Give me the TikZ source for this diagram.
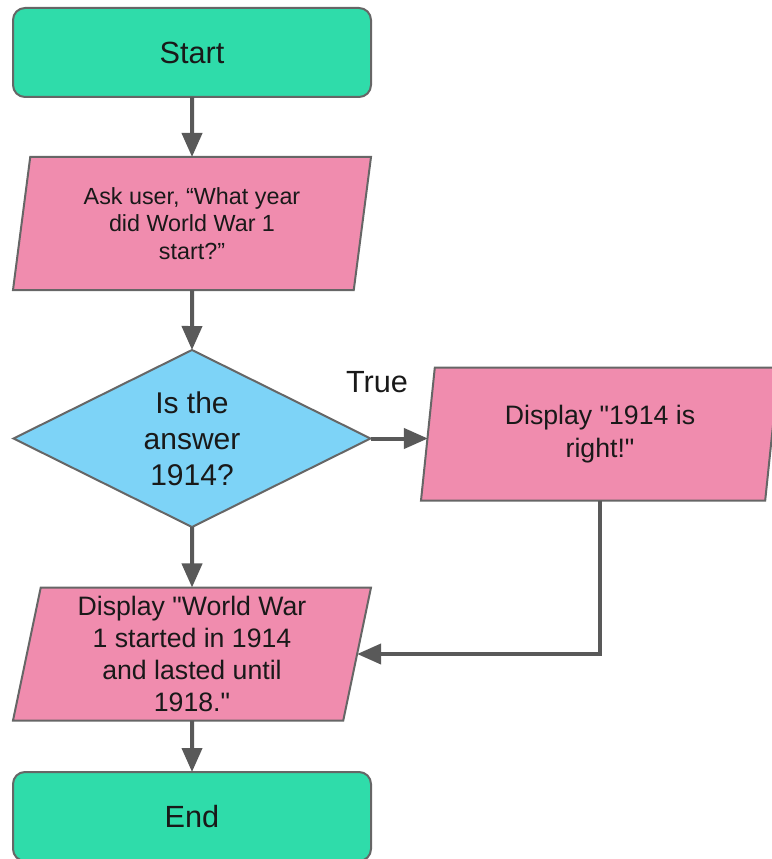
\documentclass[tikz,border=0pt]{standalone}
\usepackage{fontspec}
\setmainfont{Liberation Sans}
\usetikzlibrary{shapes.geometric,arrows.meta}

\definecolor{termgreen}{HTML}{2FDCAA}
\definecolor{iopink}{HTML}{F08CAE}
\definecolor{decblue}{HTML}{7DD3F7}
\definecolor{edgegray}{HTML}{666666}
\definecolor{flowgray}{HTML}{595959}

\newcommand{\dq}{\textquotedbl}

\begin{document}
\begin{tikzpicture}
        [x=0.75pt,y=-0.75pt,
        every node/.style={text=black!90,align=center,inner sep=0pt,outer sep=0pt},
        terminal/.style={rectangle,rounded corners=9pt,draw=edgegray,line width=1.5pt,fill=termgreen,
            minimum width=268.5pt,minimum height=66.75pt,font=\fontsize{23}{27}\selectfont},
        io/.style={trapezium,trapezium left angle=76.5,trapezium right angle=103.5,
            trapezium stretches body,draw=edgegray,line width=1.5pt,fill=iopink,
            minimum width=268.5pt,minimum height=99.75pt},
        decision/.style={diamond,aspect=2,draw=edgegray,line width=1.5pt,fill=decblue,
            minimum width=267.75pt,minimum height=132.75pt,font=\fontsize{22.5}{27}\selectfont},
        flow/.style={draw=flowgray,line width=3pt,-{Triangle[length=18pt,width=15pt]}}]
        \useasboundingbox (0,0) rectangle (771,859);

        \node[terminal] (start) at (192, 52.5) {Start};
        \node[io,font=\fontsize{17.5}{20.5}\selectfont] (ask) at (192, 223.5)
            {Ask user, “What year\\did World War 1\\start?”};
        \node[decision] (check) at (192, 438.5) {Is the\\answer\\1914?};
        \node[io,font=\fontsize{20}{24.5}\selectfont] (right) at (600, 434)
            {Display \dq1914 is\\right!\dq};
        \node[io,font=\fontsize{20}{24}\selectfont] (info) at (192, 654)
            {Display \dq World War\\1 started in 1914\\and lasted until\\1918.\dq};
        \node[terminal] (end) at (192, 816.5) {End};
        \node[font=\fontsize{23}{27}\selectfont] (true) at (377, 382) {True};

        \draw[flow] (start) -- (ask);
        \draw[flow] (ask) -- (check);
        \draw[flow] (check.east) -- (check.east -| right.west);
        \draw[flow] (check) -- (info);
        \draw[flow] (right.south) |- (info.east);
        \draw[flow] (info) -- (end);
    \end{tikzpicture}
\end{document}
